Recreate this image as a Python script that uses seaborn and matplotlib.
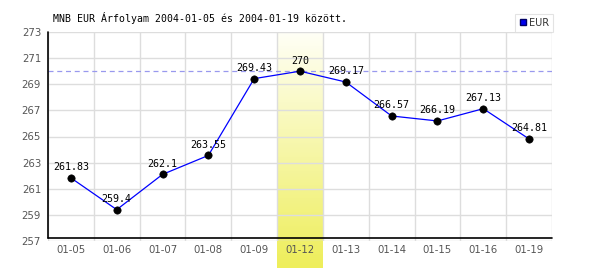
import matplotlib
matplotlib.use("Agg")
import matplotlib.pyplot as plt
from matplotlib.lines import Line2D
import numpy as np
import pandas as pd
import seaborn as sns

dates = ["01-05", "01-06", "01-07", "01-08", "01-09", "01-12",
         "01-13", "01-14", "01-15", "01-16", "01-19"]
rates = [261.83, 259.4, 262.1, 263.55, 269.43, 270,
         269.17, 266.57, 266.19, 267.13, 264.81]
value_labels = ["261.83", "259.4", "262.1", "263.55", "269.43", "270",
                "269.17", "266.57", "266.19", "267.13", "264.81"]
yticks = [257, 259, 261, 263, 265, 267, 269, 271, 273]
highlight = "01-12"
title = "MNB EUR Árfolyam 2004-01-05 és 2004-01-19 között."
series_name = "EUR"

df = pd.DataFrame({"date": dates, "rate": rates})
df["pos"] = range(len(dates))

sns.set_theme(style="white")
plt.rcParams["font.family"] = ["DejaVu Sans"]

fig = plt.figure(figsize=(6, 2.7), dpi=100)
ax = fig.add_axes([48 / 600, 1 - 241 / 270, 504 / 600, 209 / 270])
ax.set_xlim(-0.5, len(dates) - 0.5)
ax.set_ylim(257, 273)

# highlight column with vertical gradient, extending below the axes
hi = dates.index(highlight)
grad = np.linspace(0, 1, 256).reshape(-1, 1)
from matplotlib.colors import LinearSegmentedColormap
cmap = LinearSegmentedColormap.from_list("hl", ["#fffff6", "#eeee5a"])
px_per_unit = 209 / 16
y_bottom = 257 - 27 / px_per_unit
ax.imshow(grad, cmap=cmap, aspect="auto", origin="upper",
          extent=[hi - 0.5, hi + 0.5, y_bottom, 273], zorder=0.5,
          clip_on=False)
ax.set_xlim(-0.5, len(dates) - 0.5)
ax.set_ylim(257, 273)

# grid
for yv in yticks:
    ax.axhline(yv, color="#dddddd", lw=1.0, zorder=0.6)
for i in range(len(dates) + 1):
    ax.axvline(i - 0.5, color="#dddddd", lw=1.0, zorder=0.6)

# max dashed line
ax.axhline(max(rates), color="#9999ee", lw=0.9, ls=(0, (4, 3)), zorder=1)

# black axes lines (offset style)
ax.plot([-0.5, -0.5], [257 + 3.5 / px_per_unit, 273], color="black", lw=1.2,
        zorder=3, clip_on=False)
ax.plot([-0.5, len(dates) - 0.5], [257 + 3.5 / px_per_unit] * 2, color="black",
        lw=1.2, zorder=3, clip_on=False)

sns.lineplot(data=df, x="pos", y="rate", ax=ax, color="#0000ff", lw=0.9,
             zorder=4, legend=False)
sns.scatterplot(data=df, x="pos", y="rate", ax=ax, color="black", s=28,
                edgecolor="black", zorder=5, legend=False)

for i, (v, lab) in enumerate(zip(rates, value_labels)):
    ax.annotate(lab, (i, v), xytext=(0, 4), textcoords="offset points",
                ha="center", va="bottom", fontsize=7.2,
                family="DejaVu Sans Mono", color="black", zorder=6)

for s in ax.spines.values():
    s.set_visible(False)

ax.set_xticks(range(len(dates)))
ax.set_xticklabels(dates)
ax.set_yticks(yticks)
ax.set_yticklabels([str(y) for y in yticks])
ax.tick_params(axis="both", length=0, labelsize=7.3, labelcolor="#555555")
ax.tick_params(axis="x", pad=3)
ax.tick_params(axis="y", pad=5)
ax.set_xlabel("")
ax.set_ylabel("")

fig.text(53 / 600, 1 - 18 / 270, title, fontsize=7.1,
         family="DejaVu Sans Mono", color="black", va="center", ha="left")

handle = Line2D([], [], marker="s", color="none", markerfacecolor="#0000ee",
                markeredgecolor="#000066", markersize=5)
leg = fig.legend([handle], [series_name], loc="upper right",
                 bbox_to_anchor=(553 / 600, 1 - 14 / 270), fontsize=7,
                 frameon=True, fancybox=False, handlelength=0.8,
                 handletextpad=0.2, borderpad=0.4, borderaxespad=0)
leg.get_frame().set_edgecolor("#dddddd")
leg.get_frame().set_linewidth(0.8)
for t in leg.get_texts():
    t.set_color("#333333")

fig.savefig("out.png", dpi=100, facecolor="white")
